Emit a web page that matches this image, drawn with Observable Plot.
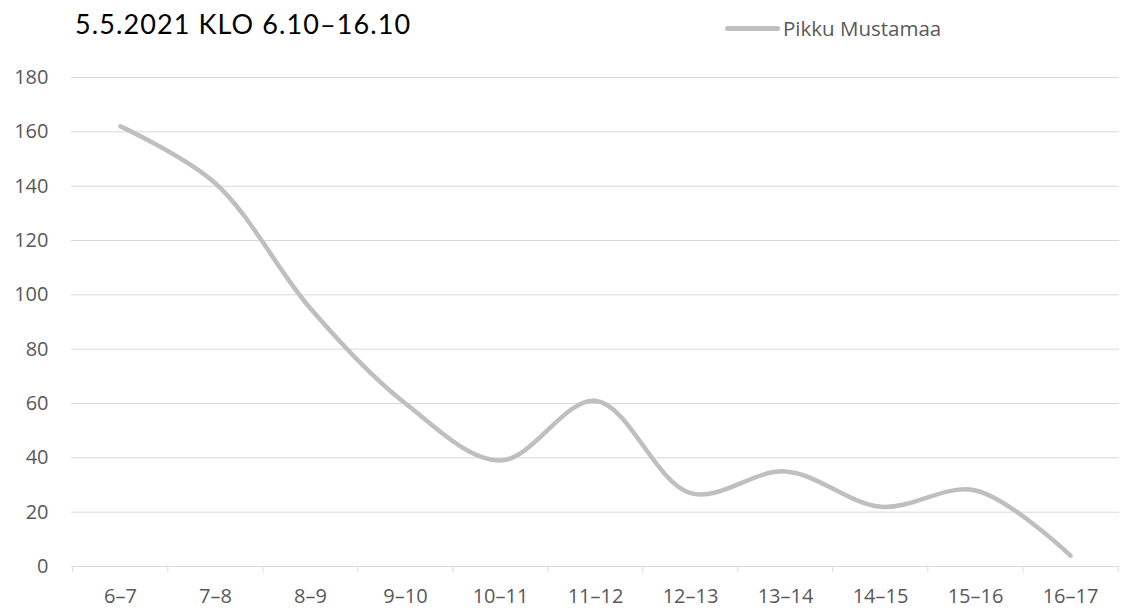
<!DOCTYPE html>
<html><head><meta charset="utf-8">
<script src="https://cdn.jsdelivr.net/npm/d3@7"></script>
<script src="https://cdn.jsdelivr.net/npm/@observablehq/plot@0.6"></script>
<style>
body{margin:0;background:#fff;}
#wrap{position:relative;width:1121px;height:610px;overflow:hidden;}
#title{position:absolute;left:75px;top:7px;font-family:Lato,sans-serif;font-size:27px;letter-spacing:1.1px;color:#000;white-space:nowrap;}
#legend{position:absolute;left:725px;top:14px;display:flex;align-items:center;font-family:"Open Sans",sans-serif;font-size:20.5px;color:#595959;white-space:nowrap;}
#legend .sw{width:55px;height:5px;border-radius:3px;background:#bfbfbf;margin-right:3px;}
#chart{position:absolute;left:0;top:60px;}
</style>
</head><body>
<div id="wrap">
  <div id="title">5.5.2021 KLO 6.10–16.10</div>
  <div id="legend"><span class="sw"></span><span id="legtext"></span></div>
  <div id="chart"></div>
</div>
<script>
const seriesName = "Pikku Mustamaa";
const categories = ["6–7","7–8","8–9","9–10","10–11","11–12","12–13","13–14","14–15","15–16","16–17"];
const values = [162, 141, 95, 60, 39, 61, 27, 35, 22, 28, 4];
const yTicks = [0, 20, 40, 60, 80, 100, 120, 140, 160, 180];

document.getElementById("legtext").textContent = seriesName;

const W = 1121, H = 550, ML = 71, MR = 2, MT = 17, MB = 44;
const step = (W - ML - MR) / categories.length;
const data = categories.map((c, i) => ({c, v: values[i]}));

const chart = Plot.plot({
  width: W, height: H,
  marginLeft: ML, marginRight: MR, marginTop: MT, marginBottom: MB,
  style: {fontFamily: "'Open Sans', sans-serif", fontSize: "20px", color: "#595959", background: "#fff"},
  x: {type: "point", domain: categories, padding: 0.5, label: null},
  y: {domain: [0, 180], label: null},
  marks: [
    Plot.gridY(yTicks, {stroke: "#d9d9d9", strokeOpacity: 1, strokeWidth: 1}),
    Plot.axisY(yTicks, {tickSize: 0, tickPadding: 23, fill: "#595959", fontSize: 20, label: null}),
    Plot.axisX(categories, {tickSize: 6, stroke: "#d9d9d9", strokeOpacity: 1, tickFormat: () => "", dx: -step / 2, label: null}),
    Plot.axisX([categories[categories.length - 1]], {tickSize: 6, stroke: "#d9d9d9", strokeOpacity: 1, tickFormat: () => "", dx: step / 2, label: null}),
    Plot.axisX(categories, {tickSize: 0, tickPadding: 22, fill: "#595959", fontSize: 20, label: null}),
    Plot.line(data, {x: "c", y: "v", stroke: "#bfbfbf", strokeWidth: 4.5, curve: "catmull-rom", strokeLinecap: "round", strokeLinejoin: "round"})
  ]
});
document.getElementById("chart").appendChild(chart);
</script>
</body></html>
